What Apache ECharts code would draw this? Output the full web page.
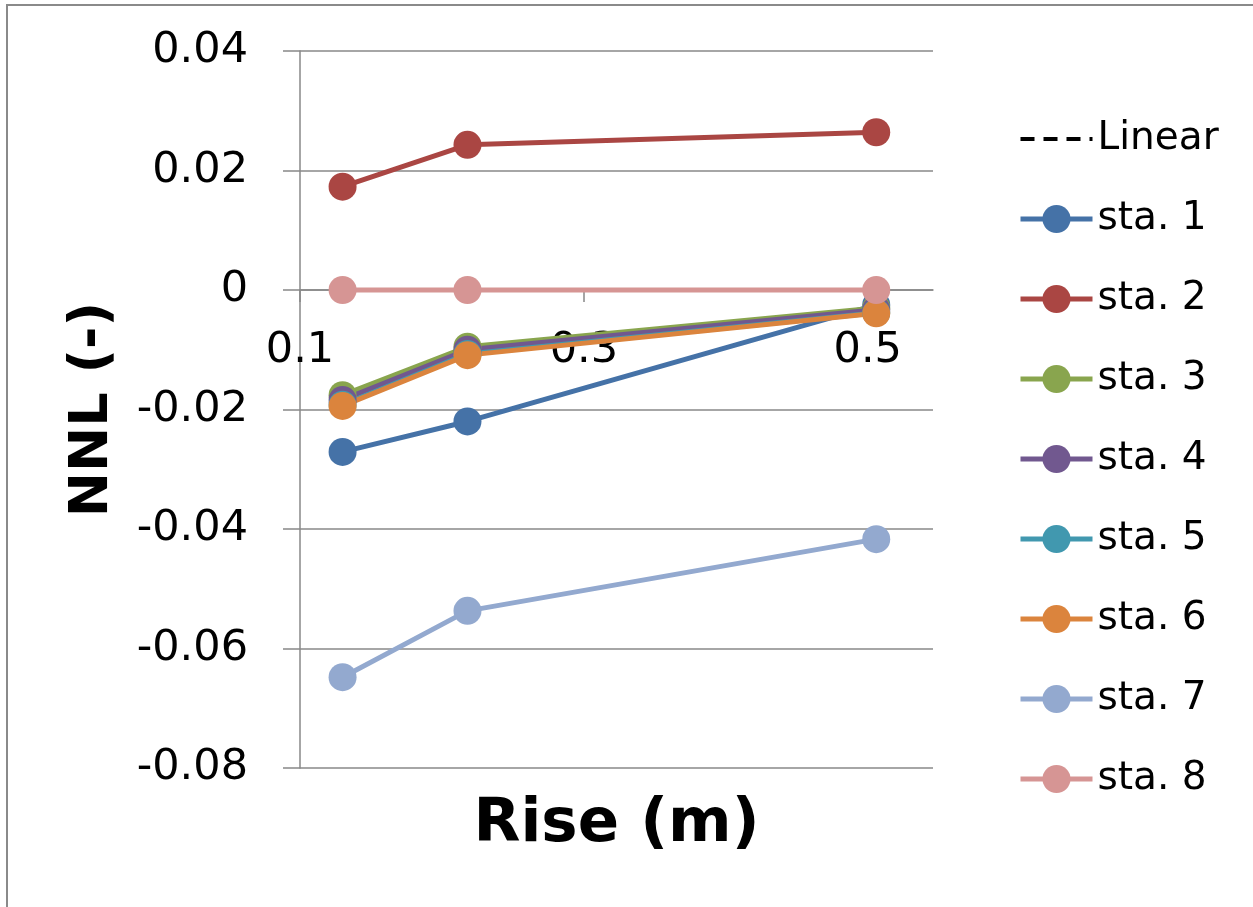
<!DOCTYPE html>
<html>
<head>
<meta charset="utf-8">
<script src="https://cdn.jsdelivr.net/npm/echarts@6/dist/echarts.min.js"></script>
<style>
html,body{margin:0;padding:0;background:#fff;}
#chart{width:1253px;height:907px;}
</style>
</head>
<body>
<div id="chart"></div>
<script>
// Data
const rise = [0.13, 0.218, 0.506];
const linear = [0, 0, 0];
const sta1 = [-0.0271, -0.0220, -0.0025];
const sta2 = [0.0173, 0.0243, 0.0264];
const sta3 = [-0.0176, -0.0095, -0.0030];
const sta4 = [-0.0184, -0.0100, -0.0033];
const sta5 = [-0.0192, -0.0107, -0.0038];
const sta6 = [-0.0194, -0.0109, -0.0039];
const sta7 = [-0.0648, -0.0537, -0.0417];
const sta8 = [0, 0, 0];
const xTicks = [0.1, 0.3, 0.5];

const seriesDefs = [
  ['sta. 1', sta1, '#4572A7'],
  ['sta. 2', sta2, '#AA4643'],
  ['sta. 3', sta3, '#89A54E'],
  ['sta. 4', sta4, '#71588F'],
  ['sta. 5', sta5, '#4198AF'],
  ['sta. 6', sta6, '#DB843D'],
  ['sta. 7', sta7, '#93A9CF'],
  ['sta. 8', sta8, '#D69594']
];
const pairs = ys => rise.map((x, i) => [x, ys[i]]);

const series = [{
  name: 'Linear', type: 'line', data: pairs(linear), symbol: 'none',
  lineStyle: {color: '#000', width: 3, type: [10, 8]}, itemStyle: {color: '#000'},
  silent: true
}].concat(seriesDefs.map(([n, d, c]) => ({
  name: n, type: 'line', data: pairs(d), symbol: 'circle', symbolSize: 28,
  lineStyle: {color: c, width: 5}, itemStyle: {color: c}, silent: true
})));

const legendData = [{
  name: 'Linear',
  itemStyle: {color: 'rgba(0,0,0,0)', borderWidth: 0},
  lineStyle: {color: '#000', width: 4, type: [14, 9]}
}].concat(seriesDefs.map(([n, d, c]) => ({
  name: n, itemStyle: {color: c}, lineStyle: {color: c, width: 5}
})));

const chart = echarts.init(document.getElementById('chart'));
const font = 'DejaVu Sans';
chart.setOption({
  animation: false,
  backgroundColor: '#fff',
  graphic: [{
    type: 'rect', shape: {x: 7, y: 5, width: 1400, height: 1100}, z: -10,
    style: {fill: 'none', stroke: '#8a8a8a', lineWidth: 2}
  }],
  grid: {left: 300, right: 320, top: 51, bottom: 139, outerBoundsMode: 'none', containLabel: false},
  legend: {
    orient: 'vertical', left: 1013, top: 114,
    itemWidth: 72, itemHeight: 35, itemGap: 40.0,
    data: legendData,
    textStyle: {fontFamily: font, fontSize: 39, color: '#000', lineHeight: 40}
  },
  xAxis: {
    type: 'value', min: 0.1, max: 0.546,
    offset: -478,
    name: 'Rise (m)', nameLocation: 'middle', nameGap: 535,
    nameTextStyle: {fontFamily: font, fontSize: 61, fontWeight: 'bold', color: '#000', verticalAlign: 'middle'},
    axisLine: {onZero: false, lineStyle: {color: '#888', width: 1.5}},
    axisTick: {show: true, length: 12, customValues: xTicks, lineStyle: {color: '#888', width: 1.5}},
    axisLabel: {customValues: xTicks, margin: 39, fontFamily: font, fontSize: 43, color: '#000',
      formatter: v => String(+(+v).toFixed(2))},
    splitLine: {show: false}
  },
  yAxis: {
    type: 'value', min: -0.08, max: 0.04, interval: 0.02,
    name: 'NNL (-)', nameLocation: 'middle', nameGap: 207, nameRotate: 90,
    nameTextStyle: {fontFamily: font, fontSize: 54, fontWeight: 'bold', color: '#000', verticalAlign: 'middle'},
    axisLine: {show: true, lineStyle: {color: '#888', width: 1.5}},
    axisTick: {show: true, length: 17, lineStyle: {color: '#888', width: 1.5}},
    axisLabel: {margin: 52, fontFamily: font, fontSize: 43, color: '#000',
      formatter: v => String(+(+v).toFixed(2))},
    splitLine: {show: true, lineStyle: {color: '#888', width: 1.5}}
  },
  series: series
});
</script>
</body>
</html>
